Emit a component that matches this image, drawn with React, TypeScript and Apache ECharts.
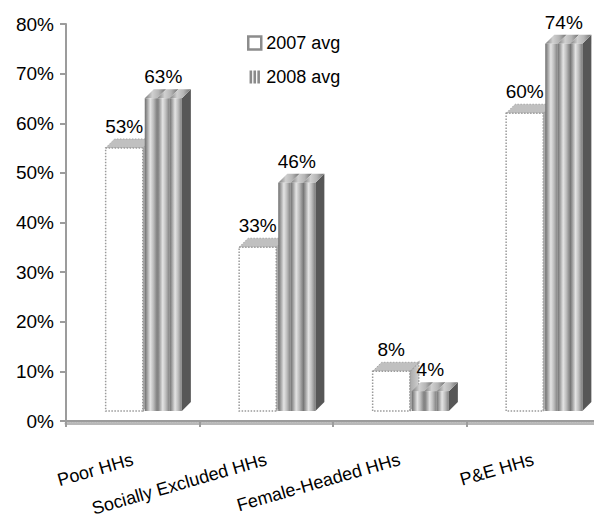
import React, { useEffect, useRef } from "react";
import * as echarts from "echarts";

const categories = ["Poor HHs", "Socially Excluded HHs", "Female-Headed HHs", "P&E HHs"];
const avg2007 = [53, 33, 8, 60];
const avg2008 = [63, 46, 4, 74];
const seriesNames = ["2007 avg", "2008 avg"];
const yTicksMax = 80;
const yTickStep = 10;

const FONT = '"Liberation Sans", Arial, sans-serif';
const DX = 9;
const DY = -9;
const BAR_FRAC = 0.278;
const GAP = 2;

function grad(stops: [number, string][]) {
  return new echarts.graphic.LinearGradient(
    0, 0, 1, 0,
    stops.map(([offset, color]) => ({ offset, color }))
  );
}

function makeRender(kind: number) {
  return (params: any, api: any) => {
    const cat = api.value(0);
    const val = api.value(1);
    const top = api.coord([cat, val]);
    const base = api.coord([cat, 0]);
    const band = api.size([1, 0])[0];
    const w = band * BAR_FRAC;
    const x0 = kind === 0 ? top[0] - GAP / 2 - w : top[0] + GAP / 2;
    const x1 = x0 + w;
    const yT = top[1];
    const yB = base[1];
    const children: any[] = [];
    if (kind === 0) {
      const dotted = { stroke: "#9a9a9a", lineWidth: 1.5, lineDash: [1.5, 1.5] };
      children.push({
        type: "polygon",
        shape: { points: [[x1, yB], [x1 + DX, yB + DY], [x1 + DX, yT + DY], [x1, yT]] },
        style: { fill: grad([[0, "#a8a8a8"], [1, "#cfcfcf"]]), ...dotted },
      });
      children.push({
        type: "polygon",
        shape: { points: [[x0, yT], [x0 + DX, yT + DY], [x1 + DX, yT + DY], [x1, yT]] },
        style: { fill: "#c0c0c0", stroke: "#a6a6a6", lineWidth: 1, lineDash: [1.5, 1.5] },
      });
      children.push({
        type: "rect",
        shape: { x: x0, y: yT, width: w, height: yB - yT },
        style: { fill: "#ffffff", ...dotted },
      });
    } else {
      children.push({
        type: "polygon",
        shape: { points: [[x1, yB], [x1 + DX, yB + DY], [x1 + DX, yT + DY], [x1, yT]] },
        style: { fill: "#575757" },
      });
      const n = 3;
      const sw = w / n;
      for (let i = 0; i < n; i++) {
        const sx = x0 + i * sw;
        children.push({
          type: "polygon",
          shape: { points: [[sx, yT], [sx + DX, yT + DY], [sx + sw + DX, yT + DY], [sx + sw, yT]] },
          style: { fill: grad([[0, "#7a7a7a"], [0.35, "#d0d0d0"], [0.65, "#b5b5b5"], [1, "#6f6f6f"]]) },
        });
        children.push({
          type: "rect",
          shape: { x: sx, y: yT, width: sw, height: yB - yT },
          style: {
            fill: grad([[0, "#6e6e6e"], [0.2, "#a0a0a0"], [0.45, "#e4e4e4"], [0.7, "#bdbdbd"], [1, "#7e7e7e"]]),
          },
        });
      }
    }
    children.push({
      type: "text",
      x: (x0 + x1) / 2,
      y: yT - 12,
      style: {
        text: `${val}%`,
        align: "center",
        textAlign: "center",
        verticalAlign: "bottom",
        textVerticalAlign: "bottom",
        fill: "#000",
        fontSize: 19,
        fontFamily: FONT,
      },
    });
    return { type: "group", children };
  };
}

export default function App() {
  const ref = useRef<HTMLDivElement>(null);
  useEffect(() => {
    if (!ref.current) return;
    const chart = echarts.init(ref.current, null, { renderer: "svg" });
    const axisColor = "#9c9c9c";
    chart.setOption({
      animation: false,
      backgroundColor: "#ffffff",
      grid: [
        { left: 66, right: -6, top: 24, bottom: 101, outerBoundsMode: "none", containLabel: false },
        { left: 77, right: -17, top: 14, bottom: 111, outerBoundsMode: "none", containLabel: false },
      ],
      legend: {
        orient: "vertical",
        left: 242,
        top: 29,
        itemWidth: 13,
        itemHeight: 13,
        itemGap: 16,
        textStyle: { fontSize: 18, fontFamily: FONT, color: "#000" },
        data: [
          {
            name: seriesNames[0],
            icon: "rect",
            itemStyle: { color: "#ffffff", borderColor: "#8c8c8c", borderWidth: 2.5 },
          },
          {
            name: seriesNames[1],
            icon: "path://M0,0h2v10h-2z M3,0h2v10h-2z M6,0h2v10h-2z",
            itemStyle: { color: "#8a8a8a" },
          },
        ],
      },
      xAxis: [
        {
          type: "category",
          gridIndex: 0,
          data: categories,
          axisLine: { show: true, lineStyle: { color: axisColor, width: 2 } },
          axisTick: { show: true, length: 6, lineStyle: { color: axisColor, width: 2 } },
          axisLabel: {
            interval: 0,
            rotate: 16,
            margin: 38,
            fontSize: 18,
            fontFamily: FONT,
            color: "#000",
          },
        },
        {
          type: "category",
          gridIndex: 1,
          data: categories,
          show: false,
        },
        {
          type: "category",
          gridIndex: 0,
          position: "bottom",
          offset: 2,
          data: categories,
          axisLine: { show: true, lineStyle: { color: "#b8b8b8", width: 3, type: [1, 1.5] } },
          axisTick: { show: false },
          axisLabel: { show: false },
        },
      ],
      yAxis: [
        {
          type: "value",
          gridIndex: 0,
          min: 0,
          max: yTicksMax,
          interval: yTickStep,
          splitLine: { show: false },
          axisLine: { show: true, lineStyle: { color: axisColor, width: 2 } },
          axisTick: { show: true, length: 6, lineStyle: { color: axisColor, width: 2 } },
          axisLabel: {
            formatter: "{value}%",
            margin: 12,
            fontSize: 19,
            fontFamily: FONT,
            color: "#000",
          },
        },
        {
          type: "value",
          gridIndex: 1,
          min: 0,
          max: yTicksMax,
          show: false,
        },
      ],
      series: [
        {
          name: seriesNames[0],
          type: "custom",
          xAxisIndex: 1,
          yAxisIndex: 1,
          itemStyle: { color: "#ffffff", borderColor: "#8c8c8c" },
          renderItem: makeRender(0),
          encode: { x: 0, y: 1 },
          data: avg2007.map((v, i) => [i, v]),
          z: 2,
        },
        {
          name: seriesNames[1],
          type: "custom",
          xAxisIndex: 1,
          yAxisIndex: 1,
          itemStyle: { color: "#8a8a8a" },
          renderItem: makeRender(1),
          encode: { x: 0, y: 1 },
          data: avg2008.map((v, i) => [i, v]),
          z: 3,
        },
      ],
    });
    return () => chart.dispose();
  }, []);
  return (
    <div
      ref={ref}
      style={{ position: "fixed", left: 0, top: 0, width: 594, height: 522, background: "#fff" }}
    />
  );
}
